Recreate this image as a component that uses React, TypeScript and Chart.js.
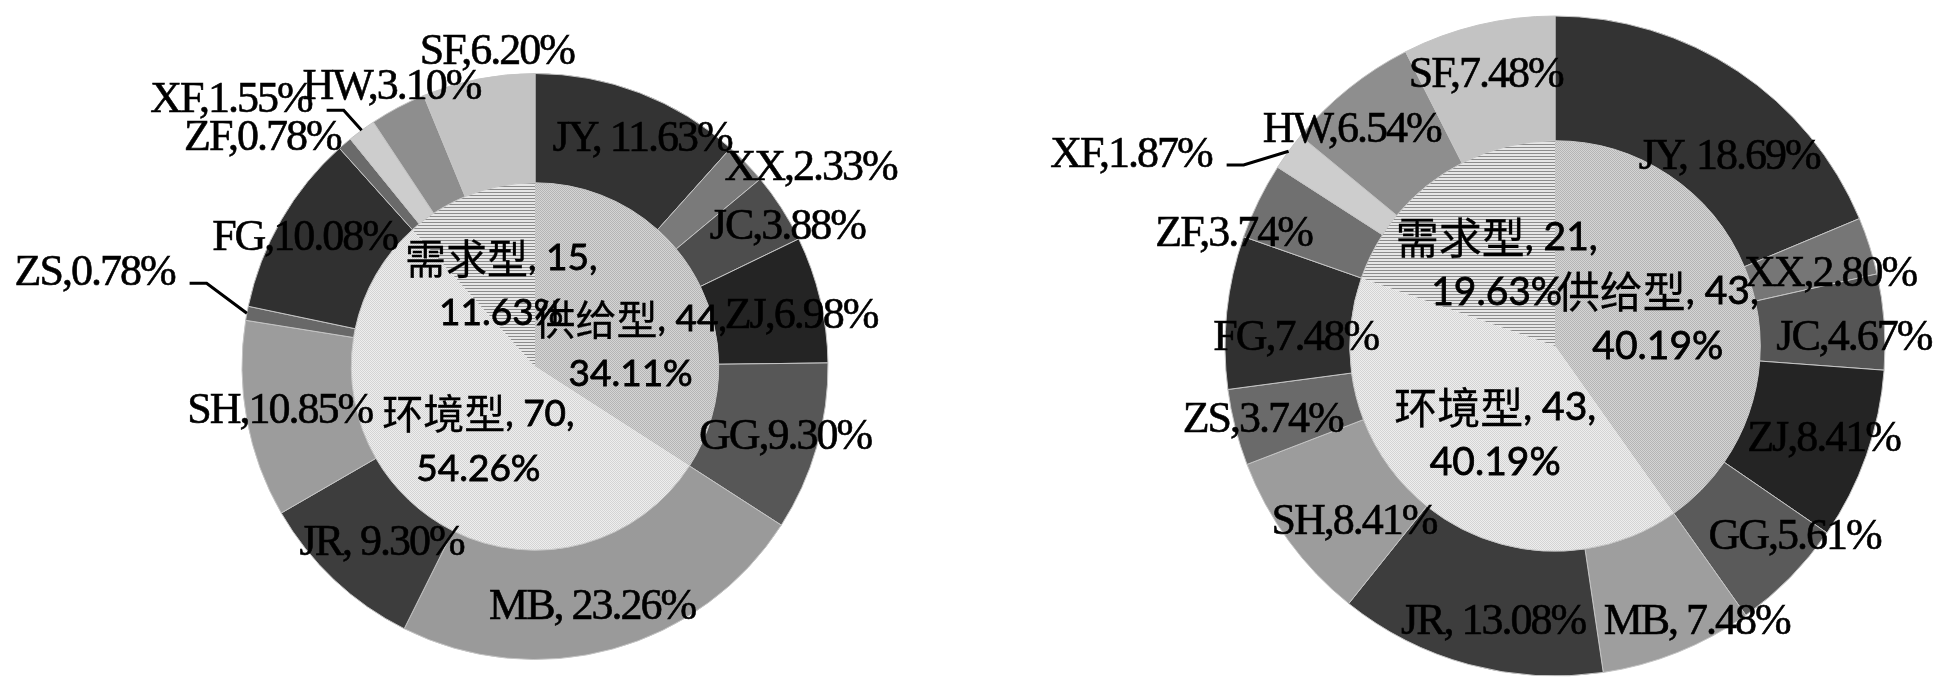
import React, { useEffect, useRef } from "react";
import { Chart, registerables } from "chart.js";

Chart.register(...registerables);

const W = 1953;
const H = 693;

// ---------- data ----------
const outerCategories = ["JY", "XX", "JC", "ZJ", "GG", "MB", "JR", "SH", "ZS", "FG", "ZF", "XF", "HW", "SF"];
const spacedCategories = ["JY", "MB", "JR"];
const innerCategories = ["供给型", "环境型", "需求型"];

const leftOuterCounts = [15, 3, 5, 9, 12, 30, 12, 14, 1, 13, 1, 2, 4, 8];
const leftOuterPct = ["11.63%", "2.33%", "3.88%", "6.98%", "9.30%", "23.26%", "9.30%", "10.85%", "0.78%", "10.08%", "0.78%", "1.55%", "3.10%", "6.20%"];
const leftInnerCounts = [44, 70, 15];
const leftInnerPct = ["34.11%", "54.26%", "11.63%"];

const rightOuterCounts = [20, 3, 5, 9, 6, 8, 14, 9, 4, 8, 4, 2, 7, 8];
const rightOuterPct = ["18.69%", "2.80%", "4.67%", "8.41%", "5.61%", "7.48%", "13.08%", "8.41%", "3.74%", "7.48%", "3.74%", "1.87%", "6.54%", "7.48%"];
const rightInnerCounts = [43, 43, 21];
const rightInnerPct = ["40.19%", "40.19%", "19.63%"];

// ---------- styles ----------
const leftOuterColors = ["#333333", "#7a7a7a", "#4d4d4d", "#242424", "#575757", "#9a9a9a", "#3d3d3d", "#9c9c9c", "#686868", "#303030", "#6a6a6a", "#cdcdcd", "#8e8e8e", "#c3c3c3"];
const rightOuterColors = ["#333333", "#767676", "#555555", "#242424", "#5a5a5a", "#9e9e9e", "#3d3d3d", "#9c9c9c", "#6a6a6a", "#303030", "#707070", "#cdcdcd", "#8e8e8e", "#c3c3c3"];
const innerPatternKinds = ["dotsMid", "dotsLight", "stripes"];

// ---------- layout (label nudges in px from slice centroid) ----------
const leftOuterNudge = [[22, -4], [104, -33], [52, -10], [34, 5], [21, 5], [-6, 11], [10, 3], [-21, 2], [-206, -50], [-24, -9], [-118, -47], [-163, -74], [-32, -68], [8, -80]];
const leftLeaders = ["ZS", "XF"];
const leftInnerNudge = [[15, 24], [3, 5], [-1, 5]];

const rightOuterNudge = [[26, 34], [20, 10], [32, 12], [16, 5], [49, 4], [42, 28], [8, 18], [15, 18], [-33, 8], [7, 20], [-81, 6], [-208, -33], [-36, -7], [-7, -10]];
const rightLeaders = ["XF"];
const rightInnerNudge = [[5, 4], [2, 7], [1, 3]];

const OUTER_FONT = '44px "Liberation Serif", "Times New Roman", serif';
const OUTER_SPACING = "-2px";
const INNER_LATIN_FAMILY = 'Lato, "Open Sans", sans-serif';
const INNER_CJK_FAMILY = '"Noto Sans CJK SC", sans-serif';
const INNER_LATIN_SIZE = 37;
const INNER_CJK_SIZE = 41;
const INNER_LINE_GAP = 55;

function makePattern(kind: string): CanvasPattern | string {
  const t = document.createElement("canvas");
  const c = t.getContext("2d");
  if (!c) return "#cccccc";
  if (kind === "stripes") {
    t.width = 4; t.height = 3;
    c.fillStyle = "#e6e6e6"; c.fillRect(0, 0, 4, 3);
    c.fillStyle = "#8c8c8c"; c.fillRect(0, 0, 4, 1);
  } else if (kind === "dotsMid") {
    t.width = 2; t.height = 2;
    c.fillStyle = "#d4d4d4"; c.fillRect(0, 0, 2, 2);
    c.fillStyle = "#b4b4b4"; c.fillRect(0, 0, 1, 1); c.fillRect(1, 1, 1, 1);
  } else {
    t.width = 2; t.height = 2;
    c.fillStyle = "#eeeeee"; c.fillRect(0, 0, 2, 2);
    c.fillStyle = "#d4d4d4"; c.fillRect(0, 0, 1, 1); c.fillRect(1, 1, 1, 1);
  }
  return c.createPattern(t, "repeat") || "#cccccc";
}

const isCJK = (ch: string) => /[\u3000-\u9fff\uff00-\uffef]/.test(ch);

function drawRichLine(ctx: CanvasRenderingContext2D, text: string, cx: number, cy: number, scale: number) {
  const latinFont = `${Math.round(INNER_LATIN_SIZE * scale)}px ${INNER_LATIN_FAMILY}`;
  const cjkFont = `${Math.round(INNER_CJK_SIZE * scale)}px ${INNER_CJK_FAMILY}`;
  const runs: { t: string; cjk: boolean }[] = [];
  for (const ch of text) {
    const c = isCJK(ch);
    if (runs.length && runs[runs.length - 1].cjk === c) runs[runs.length - 1].t += ch;
    else runs.push({ t: ch, cjk: c });
  }
  let total = 0;
  const widths = runs.map((r) => {
    ctx.font = r.cjk ? cjkFont : latinFont;
    const w = ctx.measureText(r.t).width;
    total += w;
    return w;
  });
  let x = cx - total / 2;
  ctx.textAlign = "left";
  runs.forEach((r, i) => {
    ctx.font = r.cjk ? cjkFont : latinFont;
    ctx.lineWidth = r.cjk ? 0.3 : 0.8;
    ctx.fillText(r.t, x, cy);
    ctx.strokeText(r.t, x, cy);
    x += widths[i];
  });
}

interface PieCfg {
  cx: number;
  cy: number;
  radius: number;
  innerRatio: number;
  innerTextScale: number;
  outerCounts: number[];
  outerPct: string[];
  outerColors: string[];
  innerCounts: number[];
  innerPct: string[];
  outerNudge: number[][];
  innerNudge: number[][];
  leaders: string[];
}

function makeLabelPlugin(cfg: PieCfg) {
  return {
    id: "pieLabels",
    afterDraw(chart: any) {
      const ctx: CanvasRenderingContext2D = chart.ctx;
      const outerMeta = chart.getDatasetMeta(0);
      const innerMeta = chart.getDatasetMeta(1);
      ctx.save();
      ctx.fillStyle = "#000";
      ctx.strokeStyle = "#000";
      ctx.textBaseline = "middle";
      outerMeta.data.forEach((arc: any, i: number) => {
        const p = arc.getProps(["x", "y", "startAngle", "endAngle", "innerRadius", "outerRadius"], true);
        const mid = (p.startAngle + p.endAngle) / 2;
        const rm = (p.innerRadius + p.outerRadius) / 2;
        const [nx, ny] = cfg.outerNudge[i];
        const lx = p.x + Math.cos(mid) * rm + nx;
        const ly = p.y + Math.sin(mid) * rm + ny;
        const cat = outerCategories[i];
        const text = cat + (spacedCategories.includes(cat) ? ", " : ",") + cfg.outerPct[i];
        ctx.font = OUTER_FONT;
        (ctx as any).letterSpacing = OUTER_SPACING;
        ctx.textAlign = "center";
        ctx.lineWidth = 0.6;
        ctx.fillText(text, lx, ly);
        ctx.strokeText(text, lx, ly);
        if (cfg.leaders.includes(cat)) {
          const w = ctx.measureText(text).width;
          const sx = lx + w / 2 + 15;
          const sy = ly + 10;
          const ex = p.x + Math.cos(mid) * p.outerRadius;
          const ey = p.y + Math.sin(mid) * p.outerRadius;
          ctx.beginPath();
          ctx.moveTo(sx, sy);
          ctx.lineTo(sx + 17, sy);
          ctx.lineTo(ex, ey);
          ctx.lineWidth = 3;
          ctx.stroke();
        }
      });
      (ctx as any).letterSpacing = "0px";
      innerMeta.data.forEach((arc: any, i: number) => {
        const p = arc.getProps(["x", "y", "startAngle", "endAngle", "outerRadius"], true);
        const mid = (p.startAngle + p.endAngle) / 2;
        const r = p.outerRadius * 0.5;
        const [nx, ny] = cfg.innerNudge[i];
        const lx = p.x + Math.cos(mid) * r + nx;
        const ly = p.y + Math.sin(mid) * r + ny;
        drawRichLine(ctx, `${innerCategories[i]}, ${cfg.innerCounts[i]},`, lx, ly - INNER_LINE_GAP / 2, cfg.innerTextScale);
        drawRichLine(ctx, cfg.innerPct[i], lx, ly + INNER_LINE_GAP / 2, cfg.innerTextScale);
      });
      ctx.restore();
    },
  };
}

function PieChart({ cfg }: { cfg: PieCfg }) {
  const ref = useRef<HTMLCanvasElement>(null);
  useEffect(() => {
    if (!ref.current) return;
    const padLeft = Math.max(0, 2 * cfg.cx - W);
    const padRight = Math.max(0, W - 2 * cfg.cx);
    const padTop = Math.max(0, 2 * cfg.cy - H);
    const padBottom = Math.max(0, H - 2 * cfg.cy);
    const chart = new Chart(ref.current, {
      type: "doughnut",
      data: {
        labels: outerCategories,
        datasets: [
          {
            data: cfg.outerCounts,
            backgroundColor: cfg.outerColors,
            borderColor: "#c4c4c4",
            borderWidth: 1,
            weight: 1 - cfg.innerRatio,
          } as any,
          {
            data: cfg.innerCounts,
            backgroundColor: innerPatternKinds.map(makePattern),
            borderWidth: 0,
            weight: cfg.innerRatio,
          } as any,
        ],
      },
      options: {
        responsive: false,
        maintainAspectRatio: false,
        animation: false,
        events: [],
        cutout: 0,
        radius: cfg.radius,
        layout: { padding: { left: padLeft, right: padRight, top: padTop, bottom: padBottom } },
        plugins: { legend: { display: false }, tooltip: { enabled: false } },
      } as any,
      plugins: [makeLabelPlugin(cfg)],
    });
    return () => chart.destroy();
  }, [cfg]);
  return (
    <canvas
      ref={ref}
      width={W}
      height={H}
      style={{ position: "absolute", left: 0, top: 0, width: W, height: H }}
    />
  );
}

const leftCfg: PieCfg = {
  cx: 535,
  cy: 366.5,
  radius: 293,
  innerRatio: 0.627,
  innerTextScale: 1.0,
  outerCounts: leftOuterCounts,
  outerPct: leftOuterPct,
  outerColors: leftOuterColors,
  innerCounts: leftInnerCounts,
  innerPct: leftInnerPct,
  outerNudge: leftOuterNudge,
  innerNudge: leftInnerNudge,
  leaders: leftLeaders,
};

const rightCfg: PieCfg = {
  cx: 1555,
  cy: 346,
  radius: 330,
  innerRatio: 0.622,
  innerTextScale: 1.05,
  outerCounts: rightOuterCounts,
  outerPct: rightOuterPct,
  outerColors: rightOuterColors,
  innerCounts: rightInnerCounts,
  innerPct: rightInnerPct,
  outerNudge: rightOuterNudge,
  innerNudge: rightInnerNudge,
  leaders: rightLeaders,
};

export default function App() {
  return (
    <div
      style={{
        position: "absolute",
        left: 0,
        top: 0,
        width: W,
        height: H,
        overflow: "hidden",
        background: "#ffffff",
      }}
    >
      <PieChart cfg={leftCfg} />
      <PieChart cfg={rightCfg} />
    </div>
  );
}
